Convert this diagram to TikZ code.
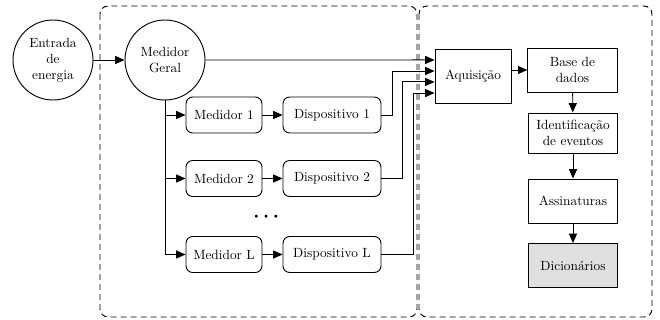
\documentclass[tikz,border=0pt]{standalone}
\usepackage{amssymb}
\usepackage{amsmath}
\usepackage{xcolor}
\usetikzlibrary{arrows.meta}

\begin{document}
\begin{tikzpicture}[x=0.75pt, y=-0.75pt, node distance=81pt,
	>={Triangle[length=7pt,width=6pt]},
	every path/.style={line width=0.7pt},
	meter/.style={circle, draw, minimum size=60pt, align=center, inner sep=1pt},
	rbox/.style={rectangle, rounded corners=5pt, draw, minimum height=27pt},
	sbox/.style={rectangle, draw, minimum width=67pt, minimum height=33pt, align=center, inner sep=2pt},
	group/.style={dash pattern=on 4.5pt off 3pt, rounded corners=6pt, line width=0.7pt},
	wire/.style={->}]
					\useasboundingbox (0,0) rectangle (660,320);
					% the two groups
					\draw[group] (100,6) rectangle (417,317);
					\draw[group] (419,6) rectangle (652,317);

					\node[meter] (entrada) at (53,60) {Entrada\\de\\energia};
					\node[meter] (geral) at (165,60) {Medidor\\Geral};

					\node[rbox, minimum width=57pt] (m1) at (224,115) {Medidor 1};
					\node[rbox, minimum width=73.5pt] (d1)[right of = m1] {Dispositivo 1};
					\node[rbox, minimum width=57pt] (m2) at (224,178.5) {Medidor 2};
					\node[rbox, minimum width=73.5pt] (d2)[right of = m2] {Dispositivo 2};
					\node (dots) at (268,217) {\Large$\boldsymbol{\cdots}$};
					\node[rbox, minimum width=57pt] (mL) at (224,254.5) {Medidor L};
					\node[rbox, minimum width=73.5pt] (dL)[right of = mL] {Dispositivo L};

					\node[sbox, minimum width=57pt, minimum height=41pt] (aq) at (473,76.5) {Aquisição};
					\node[sbox] (base) at (572.5,70) {Base de\\dados};
					\node[sbox, minimum height=30pt] (ident) at (573,133) {Identificação\\de eventos};
					\node[sbox] (assin) at (573,201) {Assinaturas};
					\node[sbox, fill=black!12] (dic) at (573,265.5) {Dicionários};

					\draw[wire] (entrada) -- (geral);
					\draw[wire] (geral.east) -- ([yshift=12.4pt]aq.west);
					\draw[wire] (geral.south) |- (mL.west);
					\draw[wire] (geral.south |- m1.west) -- (m1.west);
					\draw[wire] (geral.south |- m2.west) -- (m2.west);

					\path[wire]
						(m1) edge (d1)
						(m2) edge (d2)
						(mL) edge (dL)
					;

					\draw[wire] (d1.east) -- ++(11,0) |- ([yshift=4.1pt]aq.west);
					\draw[wire] (d2.east) -- ++(21,0) |- ([yshift=-4.1pt]aq.west);
					\draw[wire] (dL.east) -- ++(32,0) |- ([yshift=-12.4pt]aq.west);

					\draw[wire] (aq.east |- base.west) -- (base.west);
					\draw[wire] (base) -- (ident);
					\draw[wire] (ident) -- (assin);
					\draw[wire] (assin) -- (dic);
				\end{tikzpicture}
\end{document}
